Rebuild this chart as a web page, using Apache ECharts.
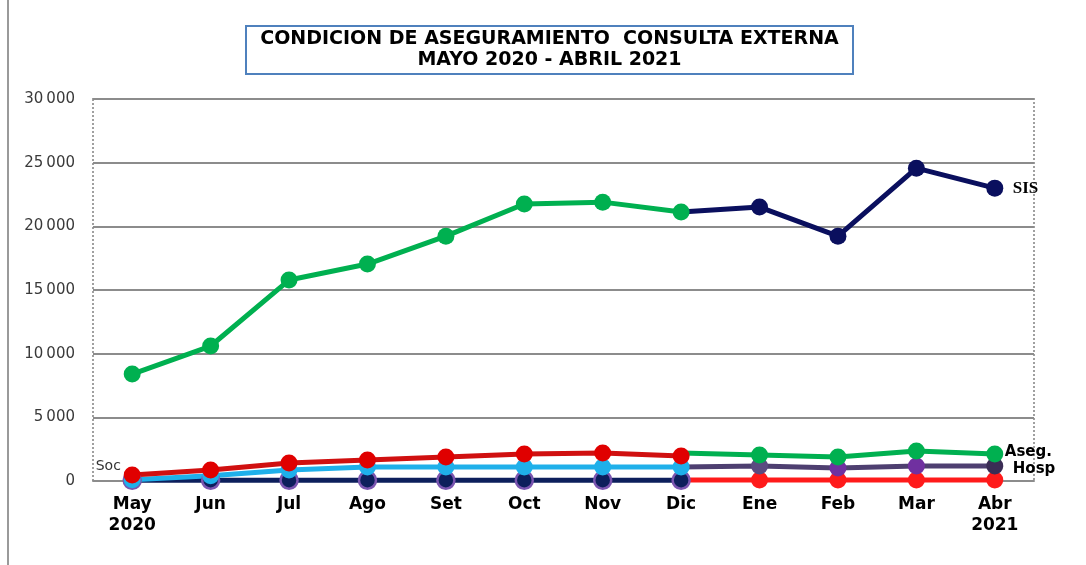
<!DOCTYPE html>
<html>
<head>
<meta charset="utf-8">
<script src="https://cdn.jsdelivr.net/npm/echarts@6/dist/echarts.min.js"></script>
<style>
  html, body { margin: 0; padding: 0; background: #fff; }
  #chart { width: 1086px; height: 565px; }
</style>
</head>
<body>
<div id="chart"></div>
<script>
var months = ['May\n2020', 'Jun', 'Jul', 'Ago', 'Set', 'Oct', 'Nov', 'Dic', 'Ene', 'Feb', 'Mar', 'Abr\n2021']
var titulo = 'CONDICION DE ASEGURAMIENTO  CONSULTA EXTERNA\nMAYO 2020 - ABRIL 2021'

// may - dic (first palette)
var sis1 = [8400, 10600, 15780, 17040, 19230, 21750, 21900, 21120, null, null, null, null]
var soc1 = [470, 860, 1410, 1650, 1880, 2120, 2200, 1960, null, null, null, null]
var celeste1 = [100, 420, 860, 1100, 1100, 1100, 1100, 1100, null, null, null, null]
var cero1 = [60, 60, 60, 60, 60, 60, 60, 60, null, null, null, null]

// dic - abr (second palette)
var sis2 = [null, null, null, null, null, null, null, 21120, 21510, 19230, 24570, 23000]
var aseg2 = [null, null, null, null, null, null, null, 2200, 2050, 1880, 2350, 2120]
var hosp2 = [null, null, null, null, null, null, null, 1100, 1180, 1020, 1180, 1180]
var rojo2 = [null, null, null, null, null, null, null, 80, 80, 80, 80, 80]

var chart = echarts.init(document.getElementById('chart'))

function hideFirst(arr, idx) {
  return arr.map(function (v, i) {
    if (i === idx) return {value: v, symbol: 'none'}
    return v
  })
}

function serie(name, data, color, opts) {
  var s = {
    name: name,
    type: 'line',
    data: data,
    symbol: 'circle',
    symbolSize: 17,
    connectNulls: false,
    lineStyle: {color: color, width: 5},
    itemStyle: {color: color},
    emphasis: {disabled: true}
  }
  return Object.assign(s, opts || {})
}

var hospColors = ['#5b4a80', '#5b4a80', '#7030a0', '#7030a0', '#3b2d55']
var hospData = hosp2.map(function (v, i) {
  if (i === 7) return {value: v, symbol: 'none'}
  if (i > 7) return {value: v, itemStyle: {color: hospColors[i - 7]}}
  return v
})

var socData = soc1.map(function (v, i) {
  if (i === 0) {
    return {value: v, label: {show: true, formatter: 'Soc', position: [-28, -7],
      color: '#333', fontSize: 14, fontFamily: 'DejaVu Sans'}}
  }
  return v
})

chart.setOption({
  animation: false,
  backgroundColor: '#fff',
  graphic: [{
    type: 'line',
    shape: {x1: 8, y1: 0, x2: 8, y2: 565},
    style: {stroke: '#9a9a9a', lineWidth: 2}
  }, {
    type: 'rect',
    shape: {x: 246, y: 26, width: 607, height: 48},
    style: {fill: '#fff', stroke: '#4f81bd', lineWidth: 2}
  }, {
    type: 'text',
    x: 549.5,
    y: 50,
    style: {
      text: titulo,
      fill: '#000',
      font: 'bold 19px "DejaVu Sans"',
      lineHeight: 21,
      align: 'center',
      verticalAlign: 'middle'
    }
  }],
  grid: {
    left: 93, right: 52, top: 99, bottom: 84,
    show: true,
    borderColor: '#a0a0a0',
    borderWidth: 2,
    borderType: 'dotted'
  },
  xAxis: {
    type: 'category',
    data: months,
    boundaryGap: true,
    axisLine: {lineStyle: {color: '#8c8c8c', width: 2}},
    axisTick: {show: false},
    axisLabel: {
      color: '#000',
      fontFamily: 'DejaVu Sans',
      fontWeight: 'bold',
      fontSize: 17,
      margin: 13,
      lineHeight: 21
    }
  },
  yAxis: {
    type: 'value',
    min: 0, max: 30000, interval: 5000,
    axisLine: {show: false},
    axisTick: {show: false},
    splitLine: {lineStyle: {color: '#8c8c8c', width: 2}},
    axisLabel: {
      color: '#3a3a3a',
      fontFamily: 'DejaVu Sans',
      fontSize: 15,
      margin: 18,
      formatter: function (v) {
        return String(v).replace(/\B(?=(\d{3})+(?!\d))/g, '\u2009')
      }
    }
  },
  series: [
    serie('Cero', cero1, '#0d1f5c', {itemStyle: {color: '#0d1f5c', borderColor: '#7a55b0', borderWidth: 2.5}}),
    serie('Celeste', celeste1, '#1fb0ea'),
    serie('Soc', socData, '#d01010', {itemStyle: {color: '#e00000'}}),
    serie('Rojo', hideFirst(rojo2, 7), '#ff1a1a'),
    serie('Hosp', hospData, '#4e3f70', {
      endLabel: {show: true, formatter: 'Hosp', color: '#000', fontFamily: 'DejaVu Sans',
        fontWeight: 'bold', fontSize: 15, distance: 18, offset: [0, 3]}
    }),
    serie('Aseg.', hideFirst(aseg2, 7), '#00b050', {
      endLabel: {show: true, formatter: 'Aseg.', color: '#000', fontFamily: 'DejaVu Sans',
        fontWeight: 'bold', fontSize: 15, distance: 10, offset: [0, -2]}
    }),
    serie('SIS2', hideFirst(sis2, 7), '#0a0f5e', {
      endLabel: {show: true, formatter: 'SIS', color: '#000', fontFamily: 'Liberation Serif',
        fontWeight: 'bold', fontSize: 17, distance: 18}
    }),
    serie('SIS', sis1, '#00b050')
  ]
})
</script>
</body>
</html>
